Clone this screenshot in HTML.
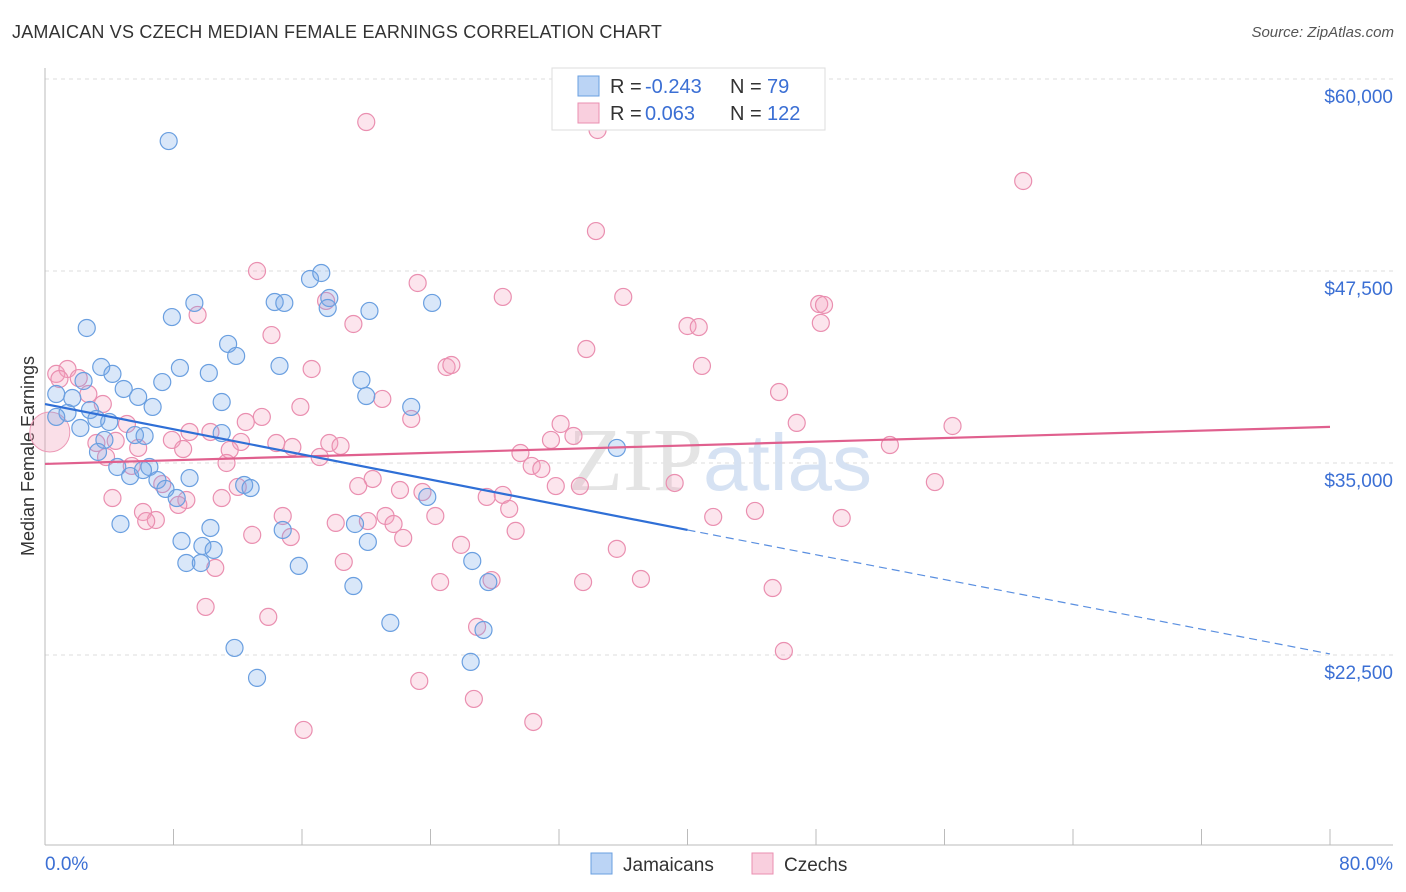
<!DOCTYPE html>
<html><head><meta charset="utf-8">
<style>
body{margin:0;background:#fff;font-family:"Liberation Sans",sans-serif;}
#wrap{position:relative;width:1406px;height:892px;overflow:hidden;}
.title{position:absolute;left:12px;top:22px;font-size:18px;color:#333;letter-spacing:0.2px}
.src{position:absolute;right:12px;top:24px;font-size:15px;color:#555;font-style:italic}
</style></head><body>
<div id="wrap">
<div class="title">JAMAICAN VS CZECH MEDIAN FEMALE EARNINGS CORRELATION CHART</div>
<div class="src">Source: ZipAtlas.com</div>
<svg id="chart" width="1406" height="892" style="position:absolute;left:0;top:0"></svg>
</div>
<script>
const yTicks=[60000,47500,35000,22500];
const yTickLabels=["$60,000","$47,500","$35,000","$22,500"];
const xTicks=[0,8,16,24,32,40,48,56,64,72,80];
const xEndLabels=["0.0%","80.0%"];
const jamX=[7.7,2.6,7.9,9.3,14.3,14.9,16.5,17.2,17.7,17.6,20.2,24.1,11.4,11.9,3.5,4.2,8.4,10.2,14.6,2.4,7.3,4.9,19.7,0.7,1.7,5.8,11.0,20.0,22.8,6.7,2.8,1.4,0.7,3.2,4.0,2.2,5.6,6.2,3.7,11.0,35.6,3.3,4.5,6.5,5.3,6.1,7.0,9.0,12.4,12.8,7.5,8.2,23.8,4.7,10.3,14.8,8.5,9.8,10.5,20.1,8.8,9.7,15.8,26.6,19.2,27.6,21.5,27.3,11.8,26.5,13.2,19.3];
const jamY=[55960,43790,44500,45420,45480,45420,46980,47370,45740,45090,44900,45420,42750,41970,41250,40800,41190,40860,41320,40340,40270,39820,40400,39490,39230,39300,38970,39360,38650,38650,38450,38260,38000,37870,37670,37280,36820,36760,36500,36950,35980,35720,34740,34740,34150,34540,33890,34020,33570,33370,33310,32720,32790,31030,30770,30640,29920,29600,29340,29860,28490,28490,28300,28620,26990,27250,24590,24130,22960,22050,21010,31030];
const czX=[20.0,34.4,60.9,34.3,13.2,23.2,28.5,36.0,17.5,9.5,48.2,48.5,48.3,40.0,40.7,19.2,14.1,33.7,25.0,25.3,40.9,16.6,0.7,1.4,2.1,0.9,45.7,2.7,3.6,21.0,15.9,13.5,22.8,12.5,32.1,46.8,56.5,5.1,9.0,10.3,32.9,31.5,12.2,14.4,15.4,17.7,18.4,7.9,3.2,4.4,5.8,52.6,11.5,8.6,29.6,17.1,3.8,11.3,5.4,30.3,30.9,20.4,19.5,39.2,55.4,31.8,33.3,12.0,22.1,23.5,7.3,27.5,28.5,4.2,11.0,8.8,8.3,28.9,44.2,24.3,41.6,49.6,6.1,6.9,6.3,14.8,21.2,18.1,20.1,21.7,29.3,12.9,15.3,22.3,25.9,35.6,18.6,10.6,24.6,27.8,33.5,37.1,45.3,10.0,13.9,26.9,46.0,23.3,26.7,30.4,16.1];
const czY=[57200,56680,53360,50100,47500,46720,45810,45810,45550,44640,45350,45290,44120,43920,43850,44050,43330,42420,41250,41380,41320,41120,40800,41120,40530,40470,39620,39490,38840,39170,38650,38000,37870,37670,37540,37610,37410,37540,37020,37020,36760,36500,36370,36300,36040,36300,36110,36500,36300,36440,35980,36170,35850,35910,35650,35390,35390,35000,34810,34810,34610,33960,33500,33700,33760,33500,33500,33440,33240,33110,33630,32790,32920,32720,32720,32590,32270,32010,31880,31550,31490,31420,31810,31290,31220,31550,31550,31100,31220,31030,30580,30320,30180,30120,29670,29410,28560,28170,27250,27380,27250,27450,26860,25630,24980,24330,22760,20810,19640,18140,17620];
const jamTrendX=[0,40,80];
const jamTrendY=[38840,30640,22570];
const czTrendX=[0,80];
const czTrendY=[34940,37350];

const X0=45,X1=1330,YT=79,PXPER=192/12500;
const sx=v=>X0+(v/80)*(X1-X0);
const sy=v=>YT+(60000-v)*PXPER;
const svg=document.getElementById('chart');
const NS='http://www.w3.org/2000/svg';
function mk(t,a){const e=document.createElementNS(NS,t);for(const k in a)e.setAttribute(k,a[k]);svg.appendChild(e);return e;}

// gridlines & y labels
yTicks.forEach((v,i)=>{
 const g=mk('line',{x1:X0,x2:1393,y1:sy(v),y2:sy(v),stroke:'#ddd','stroke-dasharray':'4,4'});
 
 
 const t=mk('text',{x:1393,y:sy(v)+24,'text-anchor':'end','font-size':19,fill:'#3b6fd4','font-family':'Liberation Sans, sans-serif'});
 t.textContent=yTickLabels[i];
 
 
});
// axes
const ya=mk('line',{x1:X0,x2:X0,y1:68,y2:845,stroke:'#bbb'});


const xa=mk('line',{x1:X0,x2:1393,y1:845,y2:845,stroke:'#bbb'});


xTicks.forEach(v=>{
 const l=mk('line',{x1:sx(v),x2:sx(v),y1:829,y2:845,stroke:'#bbb'});
 
 
});
[[0,'start',45],[80,'end',1393]].forEach((d,i)=>{
 const t=mk('text',{x:d[2],y:870,'text-anchor':d[1],'font-size':19,fill:'#3b6fd4','font-family':'Liberation Sans, sans-serif'});
 t.textContent=xEndLabels[i];
 
 
});
const yt=mk('text',{x:34,y:456,transform:'rotate(-90 34 456)','text-anchor':'middle','font-size':18,fill:'#333','font-family':'Liberation Sans, sans-serif'});
yt.textContent='Median Female Earnings';


// watermark
const wm=mk('text',{x:720,y:490,'text-anchor':'middle','font-size':90,fill:'#e4e4e4','font-family':'Liberation Serif, serif'});
wm.innerHTML='ZIP<tspan fill="#d6e2f3" font-family="Liberation Sans, sans-serif" font-size="80">atlas</tspan>';



// big circles near origin
const bc=mk('circle',{cx:sx(0.3),cy:sy(37020),r:20,fill:'rgba(240,150,180,0.3)',stroke:'#ec9ab6','stroke-width':1});



czX.forEach((x,i)=>{
 const c=mk('circle',{cx:sx(x),cy:sy(czY[i]),r:8.5,fill:'rgba(244,160,190,0.28)',stroke:'#ea8fb0','stroke-width':1.2});
 
 
});
jamX.forEach((x,i)=>{
 const c=mk('circle',{cx:sx(x),cy:sy(jamY[i]),r:8.5,fill:'rgba(120,170,235,0.28)',stroke:'#6a9fe0','stroke-width':1.2});
 
 
});
// trends
const pt=mk('line',{x1:sx(czTrendX[0]),y1:sy(czTrendY[0]),x2:sx(czTrendX[1]),y2:sy(czTrendY[1]),stroke:'#e0608e','stroke-width':2.2});


const bt=mk('line',{x1:sx(jamTrendX[0]),y1:sy(jamTrendY[0]),x2:sx(jamTrendX[1]),y2:sy(jamTrendY[1]),stroke:'#2f6fd6','stroke-width':2.2});


const bd=mk('line',{x1:sx(jamTrendX[1]),y1:sy(jamTrendY[1]),x2:sx(jamTrendX[2]),y2:sy(jamTrendY[2]),stroke:'#5a8fe0','stroke-width':1.2,'stroke-dasharray':'8,5'});



// top legend
const lg=mk('rect',{x:552,y:68,width:273,height:62,fill:'#fff',stroke:'#ddd'});


[[86,'rgba(120,170,235,0.5)','#6a9fe0','-0.243',' 79'],[113,'rgba(244,160,190,0.5)','#ea8fb0',' 0.063','122']].forEach(r=>{
 const s=mk('rect',{x:578,y:r[0]-10,width:21,height:20,fill:r[1],stroke:r[2]});
 
 
 const t=mk('text',{x:610,y:r[0]+7,'font-size':20,fill:'#333','font-family':'Liberation Sans, sans-serif','xml:space':'preserve'});
 t.innerHTML='R = <tspan fill="#3b6fd4" x="645">'+r[3]+'</tspan><tspan x="730">N = </tspan><tspan fill="#3b6fd4" x="767">'+r[4]+'</tspan>';
 
 
});
// bottom legend
[[591,'rgba(120,170,235,0.5)','#6a9fe0','Jamaicans'],[752,'rgba(244,160,190,0.5)','#ea8fb0','Czechs']].forEach(r=>{
 const s=mk('rect',{x:r[0],y:853,width:21,height:21,fill:r[1],stroke:r[2]});
 
 
 const t=mk('text',{x:r[0]+32,y:871,'font-size':19,fill:'#333','font-family':'Liberation Sans, sans-serif'});
 t.textContent=r[3];
 
 
});
</script>
</body></html>
